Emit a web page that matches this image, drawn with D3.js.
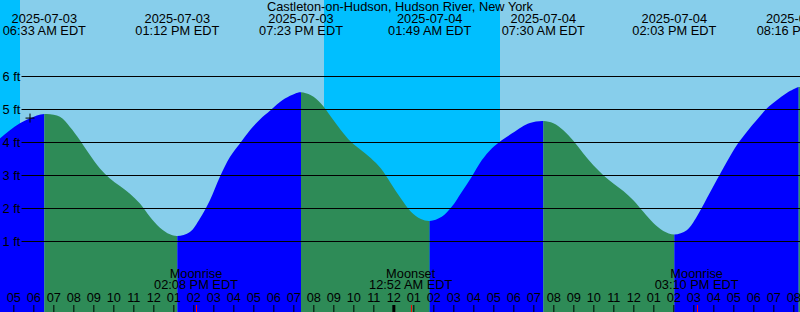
<!DOCTYPE html>
<html>
<head>
<meta charset="utf-8">
<script src="https://cdn.jsdelivr.net/npm/d3@7"></script>
<style>
  body { margin: 0; }
  svg { display: block; font-family: "Liberation Sans", Arial, sans-serif; font-size: 12.8px; }
</style>
</head>
<body>
<div class="graph"></div>
<script>
// tide events (local time, EDT)
var tideStamps = ['2025-07-03 06:33', '2025-07-03 13:12', '2025-07-03 19:23', '2025-07-04 01:49',
                  '2025-07-04 07:30', '2025-07-04 14:03', '2025-07-04 20:16'];
var tideTypes = ['High', 'Low', 'High', 'Low', 'High', 'Low', 'High'];

var moonStamps = ['2025-07-03 14:08', '2025-07-04 00:52', '2025-07-04 15:10'];
var moonTypes = ['Moonrise', 'Moonset', 'Moonrise'];

var sunStamps = ['2025-07-03 05:20', '2025-07-03 20:32', '2025-07-04 05:20'];
var sunTypes = ['Sunrise', 'Sunset', 'Sunrise'];

var nowStamp = '2025-07-03 05:50';
var nowFeet = 4.74;

var heightTicks = [1, 2, 3, 4, 5, 6];

// water level, hours since 2025-07-03 00:00
var levelHours = [4.33, 4.83, 5.33, 5.83, 6.55, 7.33, 7.83, 8.33, 8.83, 9.33, 9.83, 10.33, 10.83, 11.33,
  11.83, 12.33, 12.83, 13.2, 13.83, 14.33, 14.83, 15.33, 15.83, 16.33, 16.83, 17.33, 17.83, 18.08, 18.58,
  19.08, 19.38, 19.88, 20.38, 20.88, 21.38, 21.88, 22.38, 22.88, 23.38, 23.88, 24.38, 24.88, 25.38, 25.82,
  26.42, 26.92, 27.42, 27.92, 28.42, 28.92, 29.42, 29.92, 30.42, 30.83, 31.5, 32.0, 32.5, 33.0, 33.5, 34.0,
  34.5, 35.0, 35.5, 36.0, 36.5, 37.0, 37.5, 38.05, 38.67, 39.17, 39.67, 40.17, 40.67, 41.17, 41.67, 42.17,
  42.67, 43.17, 43.67, 44.27, 44.33];
var levelFeet = [4.12, 4.37, 4.58, 4.73, 4.86, 4.78, 4.47, 4.07, 3.62, 3.21, 2.91, 2.68, 2.45, 2.15,
  1.75, 1.42, 1.22, 1.17, 1.29, 1.70, 2.25, 2.96, 3.56, 3.97, 4.37, 4.70, 4.96, 5.10, 5.33,
  5.48, 5.52, 5.43, 5.18, 4.78, 4.37, 4.02, 3.77, 3.52, 3.21, 2.76, 2.30, 1.90, 1.68, 1.62,
  1.75, 2.05, 2.50, 2.96, 3.46, 3.82, 4.07, 4.27, 4.47, 4.59, 4.65, 4.58, 4.37, 4.05, 3.67, 3.31,
  3.01, 2.76, 2.53, 2.25, 1.90, 1.56, 1.32, 1.21, 1.34, 1.75, 2.30, 2.86, 3.41, 3.92, 4.32, 4.68,
  5.03, 5.28, 5.50, 5.68, 5.68];

var width = 800,
    height = 312;

var parse = d3.timeParse('%Y-%m-%d %H:%M');
var base = parse('2025-07-03 00:00');
var start = parse('2025-07-03 04:20'),
    end = parse('2025-07-04 20:20');

var svg = d3.select('div.graph')
    .append('svg')
        .attr('width', width)
        .attr('height', height);

var x = d3.scaleTime()
    .domain([start, end])
    .range([0, width]);

var y = d3.scaleLinear()
    .domain([0, 6])
    .range([274.5, 76.5]);

var level = levelHours.map((h, i) => ({date: new Date(+base + h * 3600e3), ft: levelFeet[i]}));
var tides = tideStamps.map((s, i) => ({date: parse(s), type: tideTypes[i]}));
var moons = moonStamps.map((s, i) => ({date: parse(s), type: moonTypes[i]}));
var suns = sunStamps.map((s, i) => ({date: parse(s), type: sunTypes[i]}));

var fmtDate = d3.timeFormat('%Y-%m-%d'),
    fmtTime = (d) => d3.timeFormat('%I:%M %p')(d) + ' EDT';

// day / night background
svg.append('rect')
    .attr('width', width)
    .attr('height', height)
    .style('fill', '#87ceeb');

var nights = [[start, suns[0].date], [suns[1].date, suns[2].date]];
svg.selectAll('rect.night')
    .data(nights)
    .enter()
    .append('rect')
        .attr('class', 'night')
        .attr('x', (d) => x(d[0]))
        .attr('y', 0)
        .attr('width', (d) => x(d[1]) - x(d[0]))
        .attr('height', height)
        .style('fill', '#00bfff');

// water, clipped to the tide curve
var area = d3.area()
    .x((d) => x(d.date))
    .y0(height)
    .y1((d) => y(d.ft))
    .curve(d3.curveCatmullRom.alpha(0.5));

svg.append('clipPath')
    .attr('id', 'water')
    .append('path')
        .attr('d', area(level));

var bounds = [start].concat(tides.map((d) => d.date), [end]);
var segs = d3.pairs(bounds).map((p, i) => {
    var next = tides[i];
    var rising = next ? next.type == 'High' : tides[tides.length - 1].type == 'Low';
    return {a: p[0], b: p[1], rising: rising};
});

svg.append('g')
    .attr('clip-path', 'url(#water)')
    .selectAll('rect')
    .data(segs)
    .enter()
    .append('rect')
        .attr('x', (d) => x(d.a))
        .attr('y', 0)
        .attr('width', (d) => x(d.b) - x(d.a))
        .attr('height', height)
        .style('fill', (d) => d.rising ? '#0000ff' : '#2e8b57');

// height lines and labels
svg.selectAll('line.grid')
    .data(heightTicks)
    .enter()
    .append('line')
        .attr('class', 'grid')
        .attr('x1', 21.5)
        .attr('x2', width)
        .attr('y1', (d) => y(d))
        .attr('y2', (d) => y(d))
        .style('stroke', '#000');

svg.selectAll('text.ft')
    .data(heightTicks)
    .enter()
    .append('text')
        .attr('class', 'ft')
        .attr('x', 2.5)
        .attr('y', (d) => y(d) + 4.5)
        .text((d) => d + ' ft');

// title and tide labels
svg.append('text')
    .attr('x', width / 2)
    .attr('y', 11)
    .attr('text-anchor', 'middle')
    .text('Castleton-on-Hudson, Hudson River, New York');

var tl = svg.selectAll('g.tide')
    .data(tides)
    .enter()
    .append('g')
        .attr('class', 'tide')
        .attr('text-anchor', 'middle')
        .attr('transform', (d) => 'translate(' + x(d.date) + ',0)');
tl.append('text').attr('y', 23).text((d) => fmtDate(d.date));
tl.append('text').attr('y', 35).text((d) => fmtTime(d.date));

// moon labels
var ml = svg.selectAll('g.moon')
    .data(moons)
    .enter()
    .append('g')
        .attr('class', 'moon')
        .attr('text-anchor', 'middle')
        .attr('transform', (d) => 'translate(' + x(d.date) + ',0)');
ml.append('text').attr('y', 278).text((d) => d.type);
ml.append('text').attr('y', 289).text((d) => fmtTime(d.date));

// hour axis along the bottom
var axis = svg.append('g')
    .attr('transform', 'translate(0,' + height + ')')
    .call(d3.axisTop(x)
        .ticks(d3.timeHour.every(1))
        .tickSize(7)
        .tickPadding(3)
        .tickFormat(d3.timeFormat('%I')));
axis.select('.domain').remove();
axis.attr('font-size', null).attr('font-family', null);
axis.selectAll('text').style('fill', '#000');
axis.selectAll('.tick')
    .filter((d) => d.getHours() == 0)
    .select('line')
        .style('stroke-width', 3);

svg.selectAll('line.moontick')
    .data(moons)
    .enter()
    .append('line')
        .attr('class', 'moontick')
        .attr('x1', (d) => Math.round(x(d.date)) + 0.5)
        .attr('x2', (d) => Math.round(x(d.date)) + 0.5)
        .attr('y1', height - 7)
        .attr('y2', height)
        .style('stroke', '#f00');

// current time marker
var nx = x(parse(nowStamp)),
    ny = y(nowFeet);
svg.append('path')
    .attr('d', 'M' + (nx - 4.5) + ',' + ny + 'h9M' + nx + ',' + (ny - 4.5) + 'v9')
    .style('stroke', '#000')
    .style('fill', 'none');
</script>
</body>
</html>
